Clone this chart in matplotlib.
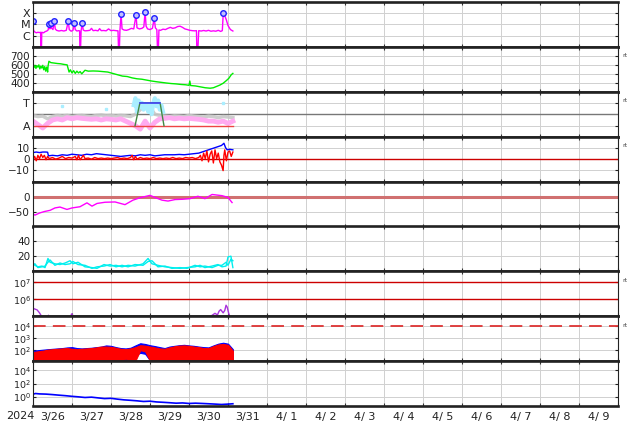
import numpy as np
import matplotlib.pyplot as plt
from matplotlib.ticker import NullLocator
from datetime import date, timedelta

# time axis: hours since 2024-03-26 00:00 UT
START = date(2024, 3, 26)
NDAYS = 15

# X-ray flux (in units of C1 = 1e-6 W/m2)
xray_h = [0.0, 0.3, 1.0, 2.0, 3.0, 4.0, 4.7, 4.9, 5.1, 5.4,
          6.5, 7.5, 8.5, 9.3, 10.0, 10.4, 10.9, 11.5, 12.3, 13.1,
          13.7, 14.5, 16.0, 17.5, 19.0, 20.5, 21.7, 22.3, 23.5, 24.6,
          25.4, 26.0, 27.0, 28.0, 28.7, 28.9, 29.1, 29.6, 30.3, 30.9,
          32.0, 33.5, 35.0, 36.0, 37.0, 38.5, 40.0, 41.0, 42.0, 43.5,
          45.0, 46.5, 48.0, 49.5, 51.0, 52.3, 52.8, 53.0, 53.5, 54.2,
          54.8, 56.0, 57.5, 59.0, 60.5, 62.0, 63.4, 64.0, 65.5, 67.0,
          68.2, 69.0, 69.6, 70.5, 72.0, 73.5, 74.6, 75.3, 76.2, 76.8,
          77.0, 77.5, 78.5, 80.0, 81.5, 83.0, 84.5, 86.0, 87.5, 89.0,
          90.5, 92.0, 93.5, 95.0, 96.5, 98.0, 99.5, 100.6, 100.9, 101.2,
          102.0, 103.5, 105.0, 106.5, 108.0, 109.5, 111.0, 112.5, 114.0, 115.5,
          116.5, 117.1, 118.0, 119.0, 120.0, 121.5, 123.0]
xray_c = [20, 3.0, 2.2, 1.8, 2.0, 1.9, 2.0, 0.01, 0.01, 2.0,
          1.8, 2.3, 2.6, 3.2, 11, 4.0, 13.5, 4.5, 3.5, 20,
          4.0, 3.0, 2.6, 2.9, 2.6, 3.0, 20, 3.5, 2.5, 3.0,
          13.5, 3.5, 2.6, 2.8, 2.7, 0.01, 0.01, 2.7, 13.5, 3.2,
          2.7, 2.8, 3.0, 4.5, 2.8, 3.0, 2.7, 4.2, 2.8, 2.9,
          2.7, 4.0, 2.8, 3.0, 2.8, 2.7, 0.01, 0.01, 3.0, 85,
          4.0, 3.2, 3.0, 3.5, 4.5, 4.0, 70, 5.0, 4.0, 4.5,
          6.0, 130, 7.0, 4.0, 3.5, 4.5, 38, 5.0, 3.5, 0.01,
          0.01, 3.2, 3.0, 3.8, 3.5, 4.5, 5.5, 4.5, 5.0, 6.5,
          7.0, 5.5, 4.0, 3.5, 3.0, 2.8, 2.7, 2.8, 0.01, 0.01,
          2.8, 2.6, 2.9, 2.6, 3.0, 2.5, 2.7, 2.5, 3.0, 2.4,
          2.8, 105, 60, 25, 8, 3.5, 2.6]
flare_h = [0.0, 10.0, 10.9, 13.1, 21.7, 25.4, 30.3, 54.2, 63.4, 69.0, 74.6, 117.1]
flare_c = [20, 11, 13.5, 20, 20, 13.5, 13.5, 85, 70, 130, 38, 105]

# solar wind speed (km/s)
speed_h = [0, 0.6, 1.2, 1.8, 2.4, 3.0, 3.6, 4.2, 4.8, 5.4, 6.0, 6.6, 7.2, 7.8, 8.4, 9.0,
           9.3, 9.8, 11, 13, 15, 17, 19, 21, 21.6, 22.2,
           23, 24, 25, 26, 27, 28, 29, 30, 31, 32, 34,
           37, 40, 43, 46, 49, 52, 55, 58, 61, 64, 67, 70, 73, 76, 79, 82, 85, 88, 91, 94,
           96, 96.5, 97, 100, 103, 106, 109, 111, 113, 115, 117, 119, 120.5, 122, 123]
speed_v = [600, 570, 595, 560, 590, 575, 600, 555, 585, 565, 595, 545, 580, 530, 575, 520,
           590, 640, 625, 620, 615, 612, 605, 600, 560, 520,
           545, 510, 535, 505, 530, 510, 525, 500, 520, 540, 530,
           532, 530, 525, 520, 505, 490, 475, 470, 455, 445, 440, 430, 420, 412, 405, 398, 392, 388, 382, 378,
           372, 420, 370, 365, 355, 345, 340, 345, 360, 375, 395, 425, 450, 490, 505]

# sector / direction panel (A = 0, T = 1)
dir_h = list(range(0, 124, 3))
dir_pink = [0.2, 0.05, -0.1, 0.1, 0.25, 0.3, 0.25, 0.35, 0.3, 0.35,
            0.32, 0.3, 0.28, 0.3, 0.25, 0.3, 0.28, 0.25, 0.3, 0.2,
            0.1, 0.0, -0.15, 0.2, -0.1, 0.15, 0.3, 0.32, 0.35, 0.3,
            0.33, 0.3, 0.32, 0.3, 0.28, 0.25, 0.2, 0.2, 0.15, 0.2,
            0.1, 0.2]
dir_gray = [0.45, 0.4, 0.42, 0.3, 0.4, 0.45, 0.42, 0.45, 0.4, 0.43,
            0.45, 0.42, 0.4, 0.45, 0.47, 0.43, 0.45, 0.42, 0.45, 0.43,
            0.4, 0.5, 0.7, 0.9, 0.8, 0.5, 0.45, 0.42, 0.4, 0.43,
            0.42, 0.4, 0.45, 0.42, 0.4, 0.38, 0.42, 0.4, 0.35, 0.4,
            0.38, 0.35]
cyan_h = [62, 63, 64, 65, 66, 67, 68, 69, 70, 71, 72, 73, 74, 75, 76, 77, 78, 79, 80]
cyan_v = [0.9, 1.2, 0.6, 1.1, 0.8, 1.0, 0.7, 0.95, 0.8, 0.6, 0.9, 0.5, 1.0, 1.2, 0.85, 1.1, 0.7, 0.9, 0.6]
cyan_dot_h = [18, 45, 117]
cyan_dot_v = [0.85, 0.75, 1.0]
step_h = [62.8, 65.8, 78.2, 80.6]
step_v = [0, 1, 1, 0]

# IMF Bt and Bz (nT)
bt_h = [0, 2, 4, 6, 8, 9, 9.5] + list(range(12, 115, 3)) + [116, 117.5, 118.5, 119.5, 121, 123]
bt_v = [5.5, 6, 5.5, 6, 6, 5.8, 2.5,
        3, 2.5, 3.5, 3, 4, 3.5, 3, 4, 3.5, 4.5,
        4, 3.5, 3, 2.5, 2, 2.5, 3, 2.5, 3.5, 3,
        3.5, 2.5, 3, 3.5, 3.5, 3.5, 3.8, 3.5, 4, 4.5,
        5, 6.5, 8, 9.5, 11,
        12, 14, 10, 8, 8.5, 8]
bz_h = [0, 1, 2, 3, 4, 5, 6, 7, 8, 9, 10, 12, 14, 16, 18, 20, 22, 24, 26, 27, 28, 29, 30, 31, 32,
        34, 36, 38, 40, 42, 44, 46, 48, 50, 52, 54, 56, 58, 60, 61, 62, 63, 64,
        66, 68, 70, 72, 74, 76, 78, 80, 82, 84, 86, 88, 90, 92, 94, 96, 98, 100, 102,
        103, 104, 105, 106, 107, 108, 109, 110, 111, 112, 113, 114, 115, 116, 117,
        117.5, 118, 119, 120, 121, 122, 123]
bz_v = [-1, 2, -2, 3, 0, 4, 1, 3, -1, 2, 0, 1, -0.5, 0.5, 2, 0, 1, 0.5, 2, -1, 3, -1, 1, 3, 0,
        0.5, -0.5, 1, 0, 0.5, 0, 0.5, 0, 0.5, 1, 0, 0.5, 0, 1, 3, -1, 2, -0.5,
        1, 0, 0.5, 0, 1, 0, 0.5, 0, 0.5, 0, 1, 0, 0.5, 0, 1, 0.5, 1, 0, 1,
        3, -2, 5, 0, 7, -3, 4, 7, -4, 8, 0, 5, -3, -6, -11,
        3, 8, -2, 6, 7, 2, 6]

# Dst (nT)
dst_h = [0, 1.2, 4, 7, 10.5, 13.5, 16.6, 20.9, 24, 28.9, 33.2, 36.3, 39.4, 44.3, 50.5, 56.6,
         61.5, 65.8, 72, 75.1, 79.4, 83.1, 87.4, 92, 96.6, 101.5, 105.8, 110.2, 116.3, 118.2, 120, 122.5]
dst_v = [-58, -62, -55, -50, -46, -38, -35, -43, -38, -34, -21, -32, -23, -19, -18, -27,
         -12, -4, 4, -3, -12, -15, -10, -9, -7, 1, -7, 7, 3, 0, -3, -20]

# two cyan traces
kp_h = [0, 1.2, 3, 5.5, 7.4, 9.2, 10.5, 13.5, 16.6, 19.7, 22.8, 24.6, 27.7, 32, 36.3, 39.4,
        43.7, 47.4, 51.1, 54.8, 58.5, 62.8, 67.7, 70.8, 73.2, 76.9, 81.2, 85.5, 90.5, 94.8,
        99.7, 102.8, 105.8, 110.2, 113.8, 116.3, 118.8, 120, 121.8, 123]
kp_a = [11, 8, 6, 7, 5, 17, 12, 10, 9, 11, 14, 10, 12, 6, 5, 4, 9, 7, 8, 6,
        8, 7, 10, 17, 10, 8, 6, 5, 4, 5, 6, 8, 5, 7, 9, 6, 7, 19, 20, 5]
kp_b = [8, 10, 5, 6, 7, 12, 15, 8, 11, 9, 10, 13, 9, 8, 4, 6, 7, 9, 6, 8,
        6, 9, 8, 13, 14, 6, 7, 4, 5, 4, 8, 6, 7, 5, 8, 8, 12, 8, 16, 14]

# electron flux (purple)
ele_h = [0, 1, 2.5, 4, 5, 7, 9, 9.5, 10, 11, 14, 20, 23, 23.8, 24.5, 26, 30, 40, 60, 80,
         100, 108, 110.5, 112, 113.5, 114.5, 115.5, 117, 118, 118.8, 119.5, 120.5, 122]
ele_v = [3e5, 2.7e5, 2.4e5, 1.6e5, 1.1e5, 8e4, 9e4, 1.15e5, 9e4, 6e4, 5e4, 6e4, 9e4, 1.4e5,
         1.1e5, 8e4, 5e4, 5e4, 5e4, 5e4, 6e4, 8e4, 1.2e5, 1.5e5, 1.2e5, 2.0e5, 2.5e5, 1.6e5,
         2.2e5, 4.5e5, 3.5e5, 1.4e5, 6e4]

# noisy flux band (3-hourly envelopes)
band_h = list(range(0, 124, 3))
blue_hi = [90, 100, 110, 120, 130, 140, 150, 170, 180, 150, 140, 150, 160, 180, 200, 250, 230, 180, 150, 140,
           160, 250, 380, 330, 260, 220, 180, 150, 200, 230, 260, 280, 250, 230, 200, 180, 170, 250, 350, 420,
           350, 120]
blue_lo = [15, 14, 14, 14, 14, 14, 14, 14, 14, 14, 14, 14, 14, 14, 14, 20, 14, 14, 14, 14,
           14, 40, 60, 50, 14, 14, 14, 14, 14, 14, 14, 14, 14, 14, 14, 14, 30, 14, 60, 40,
           14, 14]
red_hi = [70, 80, 90, 110, 120, 130, 140, 150, 130, 120, 130, 140, 150, 170, 200, 200, 190, 160, 130, 120,
          140, 180, 260, 240, 200, 170, 140, 130, 170, 210, 240, 250, 230, 200, 180, 150, 150, 220, 300, 330,
          280, 90]
red_lo = [13, 13, 13, 13, 13, 13, 13, 13, 13, 13, 13, 13, 13, 13, 13, 13, 13, 13, 13, 20,
          13, 13, 100, 80, 13, 13, 13, 13, 13, 13, 13, 13, 13, 13, 13, 13, 13, 13, 13, 13,
          13, 13]

# proton flux (blue, bottom)
pro_h = [0, 1.5, 4] + list(range(8, 121, 4)) + [123]
pro_v = [2.5, 3.2, 2.8, 2.6, 2.2, 1.8, 1.5, 1.2, 1.0, 0.8,
         0.9, 0.7, 0.55, 0.6, 0.45, 0.35, 0.3, 0.25, 0.2, 0.22,
         0.17, 0.15, 0.13, 0.11, 0.12, 0.1, 0.11, 0.1, 0.09, 0.08,
         0.07, 0.08, 0.09]

day_labels = []
for i in range(NDAYS):
    d = START + timedelta(days=i)
    day_labels.append(f"{d.month}/{d.day:2d}")


def days(h):
    return np.asarray(h, dtype=float) / 24.0


W, H = 634, 424
X0, X1 = 33, 618
TOP0, PH = 2, 44.9

fig = plt.figure(figsize=(W / 100, H / 100), dpi=100)
axes = []
for i in range(9):
    top = TOP0 + i * PH
    ax = fig.add_axes([X0 / W, 1 - (top + PH) / H, (X1 - X0) / W, PH / H])
    ax.set_xlim(0, NDAYS)
    ax.set_xticks(np.arange(0, NDAYS + 1))
    ax.set_xticks(np.arange(0.5, NDAYS), minor=True)
    ax.tick_params(axis="x", which="both", labelbottom=False, direction="in",
                   top=True, length=2, color="#333333")
    ax.tick_params(axis="x", which="minor", length=0)
    ax.tick_params(axis="y", direction="in", right=True, length=2,
                   labelsize=7.5, pad=2, colors="#222222")
    ax.grid(True, which="major", color="#d0d0d0", lw=0.7)
    ax.set_axisbelow(True)
    for s in ["top", "bottom"]:
        ax.spines[s].set_linewidth(1.9)
        ax.spines[s].set_color("#222222")
    for s in ["left", "right"]:
        ax.spines[s].set_linewidth(0.8)
        ax.spines[s].set_color("#222222")
    axes.append(ax)

# 1) X-ray
ax = axes[0]
ax.set_yscale("log")
ax.plot(days(xray_h), np.array(xray_c) * 1e-6, color="#ff00ff", lw=1)
ax.plot(days(flare_h), np.array(flare_c) * 1e-6, "o", ms=4,
        mfc="#c0c0ff", mec="#2020ff", mew=1)
ax.set_ylim(1e-7, 1e-3)
ax.set_yticks([1e-6, 1e-5, 1e-4])
ax.set_yticklabels(["C", "M", "X"], fontsize=8)
ax.yaxis.set_minor_locator(NullLocator())

# 2) speed
ax = axes[1]
ax.plot(days(speed_h), speed_v, color="#00ee00", lw=1)
ax.set_ylim(300, 800)
ax.set_yticks([400, 500, 600, 700])

# 3) direction
ax = axes[2]
ax.axhline(0.5, color="#777777", lw=1)
ax.plot(days(dir_h), dir_gray, color="#c8c8c8", lw=2.5, alpha=0.9)
ax.plot(days(dir_h), dir_pink, color="#ffaaf0", lw=3.5)
ax.plot(days(cyan_h), cyan_v, color="#aaeeff", lw=3)
ax.plot(days(cyan_dot_h), cyan_dot_v, "s", ms=2, color="#aaeeff")
ax.plot(days([0, 123]), [0, 0], color="#ee4444", lw=1)
ax.plot(days(step_h), step_v, color="#448844", lw=1)
ax.plot(days(step_h[1:3]), step_v[1:3], color="#4444ff", lw=1.2)
ax.set_ylim(-0.48, 1.48)
ax.set_yticks([0, 1])
ax.set_yticklabels(["A", "T"], fontsize=8)

# 4) IMF
ax = axes[3]
ax.axhline(0, color="#cc0000", lw=1)
ax.plot(days(bt_h), bt_v, color="#0000ff", lw=1)
ax.plot(days(bz_h), bz_v, color="#ff0000", lw=1)
ax.set_ylim(-21, 20)
ax.set_yticks([-10, 0, 10])

# 5) Dst
ax = axes[4]
ax.axhline(0, color="#d07070", lw=2.2)
ax.plot(days(dst_h), dst_v, color="#ff00ff", lw=1)
ax.set_ylim(-100, 50)
ax.set_yticks([-50, 0])

# 6) cyan traces
ax = axes[5]
ax.plot(days(kp_h), kp_a, color="#00eeee", lw=1)
ax.plot(days(kp_h), kp_b, color="#00eeee", lw=1)
ax.set_ylim(0, 59)
ax.set_yticks([20, 40])

# 7) electrons
ax = axes[6]
ax.set_yscale("log")
ax.axhline(1e6, color="#cc0000", lw=1)
ax.axhline(1e7, color="#cc0000", lw=1)
ax.plot(days(ele_h), ele_v, color="#aa33dd", lw=1)
ax.set_ylim(1e5, 10 ** 7.65)
ax.set_yticks([1e6, 1e7])
ax.yaxis.set_minor_locator(NullLocator())

# 8) noisy band
ax = axes[7]
ax.set_yscale("log")
ax.axhline(1e4, color="#dd3333", lw=1.3, dashes=(7, 4))
ax.fill_between(days(band_h), blue_lo, blue_hi, color="#0000ff", lw=0.8)
ax.fill_between(days(band_h), red_lo, red_hi, color="#ff0000", lw=0.8)
ax.set_ylim(12, 6.8e4)
ax.set_yticks([1e2, 1e3, 1e4])
ax.yaxis.set_minor_locator(NullLocator())

# 9) protons
ax = axes[8]
ax.set_yscale("log")
ax.plot(days(pro_h), pro_v, color="#0000ff", lw=1.2)
ax.set_ylim(10 ** -1.4, 10 ** 5.4)
ax.set_yticks([1e0, 1e2, 1e4])
ax.yaxis.set_minor_locator(NullLocator())
ax.set_xticklabels(day_labels, minor=True)
ax.tick_params(axis="x", which="minor", labelbottom=True, pad=4,
               labelsize=8, colors="#222222")

# log panels: slightly smaller labels so 10^n fit in the short spacing
for i in [6, 7, 8]:
    axes[i].tick_params(axis="y", labelsize=6.8, pad=1.5)

for i in [1, 2, 3, 6, 7]:
    axes[i].text(1.007, 0.8, "rt", transform=axes[i].transAxes,
                 fontsize=4.5, color="#444444", ha="left", va="center")

fig.text(20 / W, 1 - 416 / H, "2024", ha="center", va="center",
         fontsize=8, color="#222222")

fig.savefig("out.png", dpi=100)
